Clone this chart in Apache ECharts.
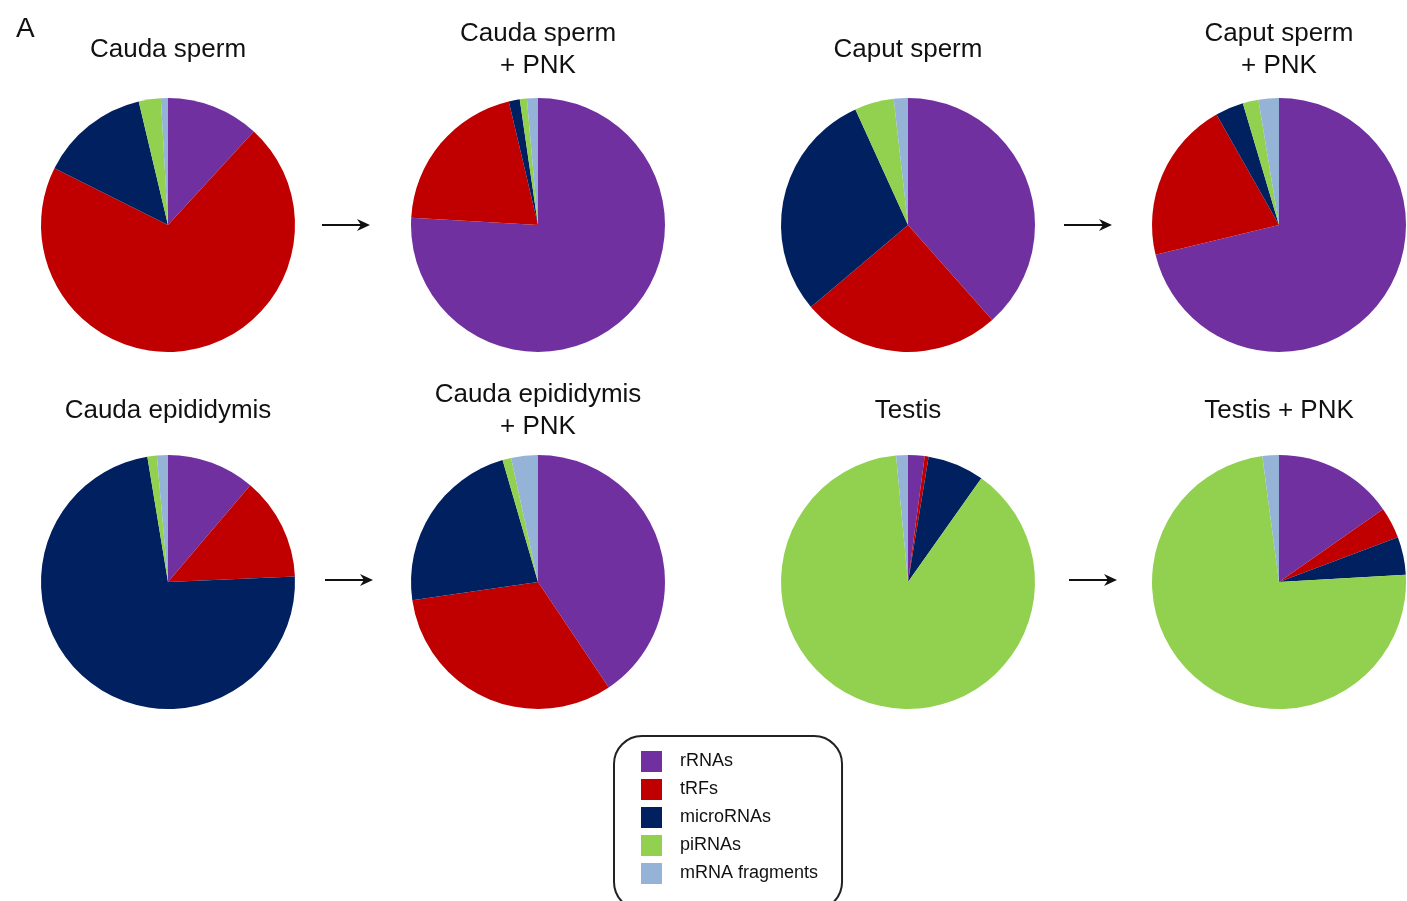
<!DOCTYPE html>
<html>
<head>
<meta charset="utf-8">
<script src="https://cdn.jsdelivr.net/npm/echarts@6/dist/echarts.min.js"></script>
<style>
  html, body { margin: 0; padding: 0; background: #fff; }
  #chart { width: 1407px; height: 901px; }
</style>
</head>
<body>
<div id="chart"></div>
<script>
// small RNA classes, same order in every pie
const categories = ['rRNAs', 'tRFs', 'microRNAs', 'piRNAs', 'mRNA fragments']
const colors = ['#7030A0', '#C00000', '#002060', '#92D050', '#95B3D7']

// percentages
const caudaSperm = [11.8, 70.5, 13.9, 2.8, 0.9]
const caudaSpermPNK = [76.0, 20.4, 1.4, 0.9, 1.4]
const caputSperm = [38.5, 25.4, 29.4, 5.0, 1.8]
const caputSpermPNK = [71.3, 20.6, 3.6, 2.0, 2.6]
const caudaEpididymis = [11.2, 13.1, 73.0, 1.2, 1.4]
const caudaEpididymisPNK = [40.6, 32.1, 22.8, 1.1, 3.4]
const testis = [2.1, 0.5, 7.2, 88.7, 1.5]
const testisPNK = [15.3, 4.0, 4.8, 73.9, 2.1]

const panelTitles = ['Cauda sperm', 'Cauda sperm\n+ PNK', 'Caput sperm', 'Caput sperm\n+ PNK',
  'Cauda epididymis', 'Cauda epididymis\n+ PNK', 'Testis', 'Testis + PNK']
const panelData = [caudaSperm, caudaSpermPNK, caputSperm, caputSpermPNK,
  caudaEpididymis, caudaEpididymisPNK, testis, testisPNK]

const font = '"Liberation Sans", Arial, Helvetica, sans-serif'
const colX = [168, 538, 908, 1279]
const rowY = [225, 582]
const radius = 127

let myChart = echarts.init(document.getElementById('chart'))

let series = panelData.map((vals, i) => {
  return {
    name: panelTitles[i],
    type: 'pie',
    center: [colX[i % 4], rowY[Math.floor(i / 4)]],
    radius: radius,
    startAngle: 90,
    clockwise: true,
    silent: true,
    label: { show: false },
    labelLine: { show: false },
    itemStyle: { borderWidth: 0 },
    emphasis: { disabled: true },
    data: categories.map((c, k) => ({ name: c, value: vals[k] }))
  }
})

// panel titles + arrows
let graphics = [
  { type: 'text', x: 16, y: 15, style: { text: 'A', font: '28px ' + font, fill: '#111' } }
]
panelTitles.forEach((t, i) => {
  graphics.push({
    type: 'text',
    x: colX[i % 4],
    y: i < 4 ? 50 : 411,
    style: {
      text: t,
      font: '26px ' + font,
      fill: '#111',
      textAlign: 'center',
      textVerticalAlign: 'middle',
      lineHeight: 32
    }
  })
})
const arrows = [[322, 370, 225], [1064, 1112, 225], [325, 373, 580], [1069, 1117, 580]]
arrows.forEach(a => {
  graphics.push({
    type: 'line',
    shape: { x1: a[0], y1: a[2], x2: a[1] - 6, y2: a[2] },
    style: { stroke: '#111', lineWidth: 2 }
  })
  graphics.push({
    type: 'polygon',
    shape: { points: [[a[1], a[2]], [a[1] - 13, a[2] - 6], [a[1] - 9, a[2]], [a[1] - 13, a[2] + 6]] },
    style: { fill: '#111' }
  })
})

myChart.setOption({
  animation: false,
  color: colors,
  legend: {
    orient: 'vertical',
    left: 614,
    top: 736,
    height: 260,
    icon: 'rect',
    itemWidth: 21,
    itemHeight: 21,
    itemGap: 7,
    padding: [15, 24, 26, 27],
    borderColor: '#222',
    borderWidth: 2,
    borderRadius: 28,
    selectedMode: false,
    data: categories,
    textStyle: { fontFamily: font, fontSize: 18, color: '#111', padding: [0, 0, 0, 13] }
  },
  graphic: graphics,
  series: series
})
</script>
</body>
</html>
